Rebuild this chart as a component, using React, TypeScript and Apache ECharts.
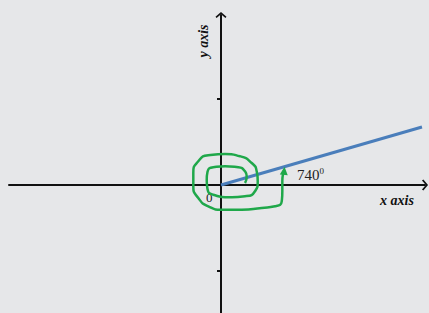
import React, { useEffect, useRef } from "react";
import * as echarts from "echarts";

const xRange = [-2.4651, 2.372];
const yRange = [-1.4884, 1.9767];
const yTickValues = [-1, 1];

// terminal side of the angle (740°)
const rayPoints: [number, number][] = [
  [0, 0],
  [2.337, 0.674],
];

// hand-drawn rotation spiral
const spiralPoints: [number, number][] = [
  [0.279, 0.023],
  [0.299, 0.101],
  [0.279, 0.159],
  [0.201, 0.206],
  [0.047, 0.217],
  [-0.09, 0.206],
  [-0.155, 0.159],
  [-0.166, 0.062],
  [-0.155, -0.055],
  [-0.09, -0.113],
  [0.085, -0.143],
  [0.279, -0.131],
  [0.395, -0.073],
  [0.427, 0.043],
  [0.415, 0.159],
  [0.357, 0.256],
  [0.221, 0.334],
  [0.047, 0.36],
  [-0.148, 0.345],
  [-0.264, 0.276],
  [-0.322, 0.14],
  [-0.322, -0.015],
  [-0.264, -0.151],
  [-0.148, -0.248],
  [0.008, -0.287],
  [0.241, -0.287],
  [0.473, -0.267],
  [0.628, -0.248],
  [0.706, -0.19],
  [0.713, -0.073],
  [0.713, 0.043],
  [0.724, 0.14],
  [0.734, 0.165],
];

const angleLabel = "740";
const originLabel = "0";
const xAxisName = "x axis";
const yAxisName = "y axis";

const chevron = "path://M0,0 L10,8.5 L8,11 L0,4 L-8,11 L-10,8.5 Z";

export default function App() {
  const ref = useRef<HTMLDivElement>(null);
  useEffect(() => {
    document.body.style.margin = "0";
    const chart = echarts.init(ref.current!, null, { renderer: "svg" });
    const serif = "'Liberation Serif', 'DejaVu Serif', serif";
    const spiralData = spiralPoints.map((p, i) =>
      i === spiralPoints.length - 1
        ? { value: p, symbol: "triangle", symbolSize: [8, 8], symbolRotate: -5 }
        : { value: p, symbol: "none" }
    );
    chart.setOption({
      animation: false,
      backgroundColor: "#e6e7e9",
      grid: { left: 9, right: 4, top: 15, bottom: 0, containLabel: false },
      xAxis: {
        type: "value",
        min: xRange[0],
        max: xRange[1],
        axisLine: {
          onZero: true,
          lineStyle: { color: "#111", width: 2 },
          symbol: ["none", chevron],
          symbolSize: [11, 8],
        },
        axisTick: { show: false },
        axisLabel: { show: false },
        splitLine: { show: false },
      },
      yAxis: {
        type: "value",
        min: yRange[0],
        max: yRange[1],
        axisLine: {
          show: true,
          onZero: true,
          lineStyle: { color: "#111", width: 2 },
          symbol: ["none", chevron],
          symbolSize: [11, 8],
        },
        axisTick: {
          show: true,
          customValues: yTickValues,
          length: 4,
          lineStyle: { color: "#111", width: 2 },
        },
        axisLabel: { show: false },
        splitLine: { show: false },
      },
      series: [
        {
          type: "line",
          data: rayPoints,
          symbol: "none",
          lineStyle: { color: "#4a7ebb", width: 3 },
          z: 3,
        },
        {
          type: "line",
          data: spiralData,
          smooth: 0.6,
          symbol: "none",
          itemStyle: { color: "#1fa84a" },
          lineStyle: { color: "#1fa84a", width: 2.5 },
          z: 4,
        },
      ],
      graphic: [
        {
          type: "text",
          x: 297,
          y: 166,
          style: {
            text: `${angleLabel}{s|0}`,
            font: `15px ${serif}`,
            fill: "#222",
            rich: { s: { fontSize: 9, verticalAlign: "top", padding: [0, 0, 8, 0], fontFamily: serif } },
          },
        },
        {
          type: "text",
          x: 206,
          y: 191,
          style: { text: originLabel, font: `13px ${serif}`, fill: "#222" },
        },
        {
          type: "text",
          x: 380,
          y: 193,
          style: { text: xAxisName, font: `italic bold 14px ${serif}`, fill: "#111" },
        },
        {
          type: "text",
          x: 203,
          y: 41,
          rotation: Math.PI / 2,
          style: {
            text: yAxisName,
            font: `italic bold 14px ${serif}`,
            fill: "#111",
            align: "center",
            verticalAlign: "middle",
          },
        },
      ],
    });
    return () => chart.dispose();
  }, []);
  return <div ref={ref} style={{ width: 429, height: 313 }} />;
}
